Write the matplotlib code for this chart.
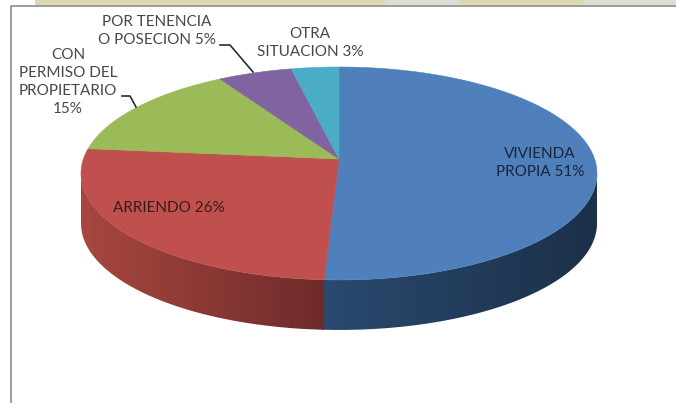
import numpy as np
import matplotlib
matplotlib.use("Agg")
import matplotlib.pyplot as plt
from matplotlib.colors import LinearSegmentedColormap
from matplotlib.patches import Polygon, Rectangle

# ================= DATA =================
LABELS = ["VIVIENDA\nPROPIA 51%", "ARRIENDO 26%", "CON\nPERMISO DEL\nPROPIETARIO\n15%",
          "POR TENENCIA\nO POSECION 5%", "OTRA\nSITUACION 3%"]
# read from the slice boundaries, the labels show them rounded
VALUES = [50.8, 25.8, 14.7, 5.3, 3.4]
COLORS = ["#4f80bc", "#c0504d", "#9bbb59", "#8064a2", "#4bacc6"]
# wall colours, left to right across the visible wall of each slice
WALLS = {0: ("#2a4a70", "#1c3048"), 1: ("#a8473f", "#6e2b2a")}
# =========================================

# pie geometry in image pixels
CX, CY = 339, 159
A, B, K = 104.5, 255.6, 0.136
DEPTH = 50


def rim(theta):
    """Point on the rim, theta clockwise from the top, with a perspective tilt."""
    u, v = np.sin(theta), np.cos(theta)
    d = 1 + K * v
    return CX + B * u / d, CY - A * v / d


def main():
    fig = plt.figure(figsize=(6.76, 4.03), dpi=100)
    ax = fig.add_axes([0, 0, 1, 1])

    # slide background strip and chart frame
    ax.add_patch(Rectangle((35, 0), 350, 5, fc="#dcd8b4", ec="none"))
    ax.add_patch(Rectangle((385, 0), 74, 5, fc="#d8ded2", ec="none"))
    ax.add_patch(Rectangle((459, 0), 124, 5, fc="#dcd8b4", ec="none"))
    ax.add_patch(Rectangle((583, 0), 93, 5, fc="#d8ded2", ec="none"))
    ax.plot([11, 11, 676], [403, 6, 6], color="#949494", lw=1.3)

    edges = np.cumsum([0] + VALUES) / sum(VALUES) * 2 * np.pi
    front_end = np.pi / 2 + np.arctan(K)

    # walls first, a gradient image clipped to the wall outline
    for i, (c_left, c_right) in WALLS.items():
        t0 = max(edges[i], front_end)
        t1 = min(edges[i + 1], 3 * np.pi / 2 - np.arctan(K))
        if i == 0:
            t1 += 0.01  # runs under the red wall so no seam shows
        ts = np.linspace(t0, t1, 200)
        xs, ys = rim(ts)
        outline = list(zip(xs, ys)) + list(zip(xs[::-1], ys[::-1] + DEPTH))
        clip = Polygon(outline, fc="none", ec="none", transform=ax.transData)
        ax.add_patch(clip)
        cmap = LinearSegmentedColormap.from_list("wall", [c_left, c_right])
        im = ax.imshow(np.linspace(0, 1, 256).reshape(1, -1), cmap=cmap, aspect="auto",
                       extent=(xs.min(), xs.max(), ys.max() + DEPTH, ys.min()))
        im.set_clip_path(clip)

    # top face
    for i, col in enumerate(COLORS):
        ts = np.linspace(edges[i], edges[i + 1], 200)
        xs, ys = rim(ts)
        pts = [(CX, CY)] + list(zip(xs, ys))
        ax.add_patch(Polygon(pts, fc=col, ec=col, lw=0.4))

    # leader lines
    ax.plot([220, 230, 253], [45, 45, 72], color="#2a2a2a", lw=1.2)
    ax.plot([122, 130, 136], [96, 96, 107], color="#2a2a2a", lw=1.2)

    # labels
    font = dict(family="Lato", fontsize=11, ha="center", va="center", linespacing=1.35)
    ax.text(540, 163, LABELS[0], color="#17263c", **font)
    ax.text(169, 208, LABELS[1], color="#3a1a18", **font)
    ax.text(68, 82, LABELS[2], color="#484848", **font)
    ax.text(157, 31, LABELS[3], color="#484848", **font)
    ax.text(310, 43, LABELS[4], color="#484848", **font)

    ax.set_xlim(0, 676)
    ax.set_ylim(403, 0)
    ax.axis("off")
    fig.savefig("out.png", dpi=100)


if __name__ == "__main__":
    main()
